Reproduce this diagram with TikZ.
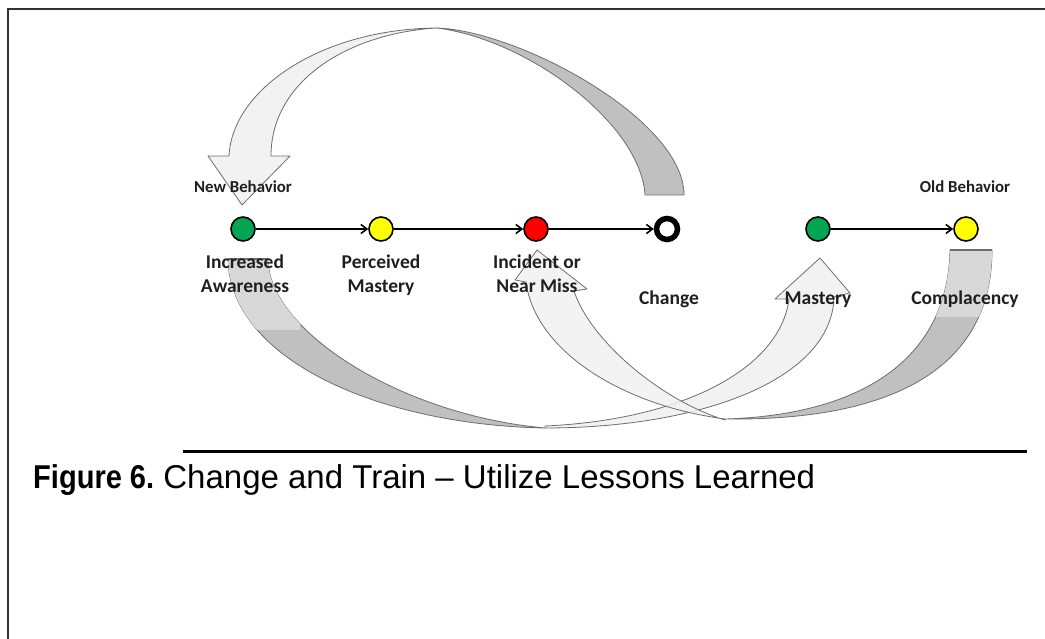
\documentclass[tikz,border=0pt]{standalone}
\usepackage{fontspec}
\setmainfont{Liberation Sans}
\newfontfamily\lbl{Carlito}
\usetikzlibrary{arrows.meta}
\definecolor{dotgreen}{RGB}{0,166,81}
\definecolor{dotyellow}{RGB}{255,255,0}
\definecolor{dotred}{RGB}{255,0,0}
\definecolor{lightband}{RGB}{242,242,242}
\definecolor{darkband}{RGB}{192,192,192}
\definecolor{midband}{RGB}{216,216,216}
\definecolor{bandline}{RGB}{110,110,110}
\begin{document}
\begin{tikzpicture}[x=1pt,y=-1pt,
  dot/.style={circle,draw=black,line width=1.6pt,minimum size=24pt,inner sep=0pt},
  ringdot/.style={circle,draw=black,line width=5.5pt,fill=white,minimum size=21pt,inner sep=0pt},
  link/.style={line width=1.6pt,-{Straight Barb[length=6pt,width=9pt,line width=1.6pt]}},
  lab/.style={font=\lbl\bfseries\fontsize{19.5}{24.5}\selectfont,align=center,text=black!88},
  smalllab/.style={font=\lbl\bfseries\fontsize{16.8}{18}\selectfont,text=black!88},
  band/.style={draw=bandline,line width=0.8pt,line join=round},
]
\useasboundingbox (0,0) rectangle (1045,639);
\fill[white] (0,0) rectangle (1045,639);
\draw[line width=2pt,black!80] (8,639) -- (8,9) -- (1045,9);

% top arrow: dark right half (tail above Change)
\filldraw[band,fill=darkband] (437,28) .. controls (520,31) and (684,120) .. (684,195)
  -- (645,195) .. controls (641,125) and (530,40) .. (437,28) -- cycle;
% top arrow: light left half with head at New Behavior
\filldraw[band,fill=lightband] (242,205) -- (208,156) -- (229,156)
  .. controls (232,90) and (320,29) .. (437,28)
  .. controls (350,33) and (271,80) .. (271,156)
  -- (290,156) -- cycle;

% arrow A: descending grey part from Increased Awareness
\filldraw[band,fill=darkband] (228,259) .. controls (230,360) and (380,425) .. (545,428)
  .. controls (400,415) and (268,330) .. (268,259) -- cycle;
\begin{scope}
  \clip (200,259) rectangle (300,330);
  \fill[midband] (228,259) .. controls (230,360) and (380,425) .. (545,428)
  .. controls (400,415) and (268,330) .. (268,259) -- cycle;
\end{scope}
\draw[band,line width=1.2pt] (228,259) -- (268,259);
% arrow A: rising light part to Mastery
\filldraw[band,fill=lightband] (545,428) .. controls (700,428) and (832,380) .. (834,297)
  -- (850,293) -- (820,258) -- (775,299) -- (789,299)
  .. controls (780,370) and (680,420) .. (545,426) -- cycle;

% arrow B: descending grey part from Complacency
\filldraw[band,fill=darkband] (950,250) .. controls (948,360) and (860,415) .. (725,419)
  .. controls (890,421) and (992,370) .. (992,250) -- cycle;
\begin{scope}
  \clip (930,250) rectangle (1010,317);
  \fill[midband] (950,250) .. controls (948,360) and (860,415) .. (725,419)
  .. controls (890,421) and (992,370) .. (992,250) -- cycle;
\end{scope}
\draw[band,line width=1.2pt] (950,250) -- (992,250);
% arrow B: rising light part to Incident
\filldraw[band,fill=lightband,fill opacity=0.85] (725,420) .. controls (660,400) and (590,340) .. (574,291)
  -- (587,289) -- (537,250) -- (515,280) -- (526,282)
  .. controls (535,350) and (620,405) .. (725,419) -- cycle;

% nodes
\node[dot,fill=dotgreen] (g1) at (243,229) {};
\node[dot,fill=dotyellow] (y1) at (381,229) {};
\node[dot,fill=dotred] (r1) at (536,229) {};
\node[ringdot] (c1) at (667,229) {};
\node[dot,fill=dotgreen] (g2) at (818,229) {};
\node[dot,fill=dotyellow] (y2) at (966,229) {};

\draw[link] (g1) -- (y1);
\draw[link] (y1) -- (r1);
\draw[link] (r1) -- (c1);
\draw[link] (g2) -- (y2);

% labels
\node[smalllab,anchor=base] (nb) at (243,193) {New Behavior};
\node[smalllab,anchor=base] (ob) at (965,193) {Old Behavior};
\node[lab,anchor=base] (la) at (245,293) {Increased\\Awareness};
\node[lab,anchor=base] (lb) at (381,293) {Perceived\\Mastery};
\node[lab,anchor=base] (lc) at (537,293) {Incident or\\Near Miss};
\node[lab,anchor=base] (ld) at (669,305) {Change};
\node[lab,anchor=base] (le) at (818,305) {Mastery};
\node[lab,anchor=base] (lf) at (965,305) {Complacency};

% caption
\draw[line width=3pt] (183,451) -- (1027,451);
\node[anchor=base west,inner sep=0pt,font=\fontsize{33}{36}\selectfont] (cap) at (33,488)
  {\scalebox{0.88}[1]{\textbf{Figure 6.}} Change and Train – Utilize Lessons Learned};
\end{tikzpicture}
\end{document}
